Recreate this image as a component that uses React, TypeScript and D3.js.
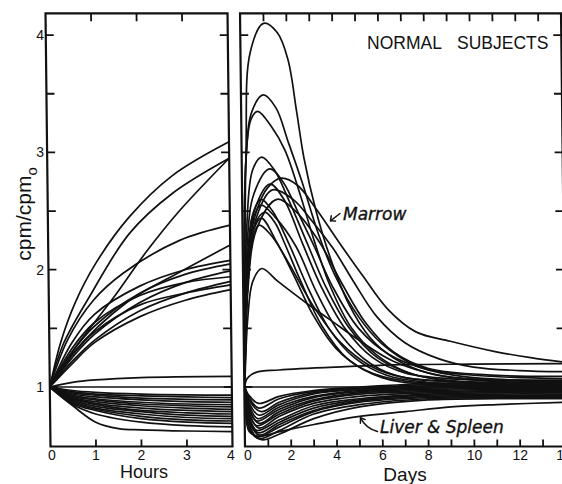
import React from "react";
import * as d3 from "d3";

type Pt = [number, number];

// Axis ticks
const hourTicks = [0, 1, 2, 3, 4];
const dayLabelTicks = [0, 2, 4, 6, 8, 10, 12, 14];
const dayMinorTicks = [1, 2, 3, 4, 5, 6, 7, 8, 9, 10, 11, 12, 13];
const yMinorTicks = [1, 1.5, 2, 2.5, 3, 3.5, 4];
const yLabelTicks = [1, 2, 3, 4];

// First four hours, marrow (rising) curves: [hour, cpm/cpm0]
const marrowHours: Pt[][] = [
  [[0, 1], [0.25, 1.38], [0.58, 1.72], [1.05, 2.06], [1.79, 2.45], [2.74, 2.8], [4, 3.09]],
  [[0, 1], [0.3, 1.36], [0.91, 1.78], [1.79, 2.31], [2.74, 2.65], [4, 2.95]],
  [[0, 1], [0.5, 1.3], [1.42, 1.76], [2.15, 2.15], [2.89, 2.5], [4, 2.95]],
  [[0, 1], [0.4, 1.4], [0.98, 1.74], [1.64, 1.97], [2.89, 2.25], [4, 2.38]],
  [[0, 1], [0.5, 1.28], [1.71, 1.72], [2.89, 1.98], [4, 2.21]],
  [[0, 1], [0.5, 1.38], [1, 1.62], [2, 1.86], [3, 2.0], [4, 2.08]],
  [[0, 1], [0.5, 1.3], [1, 1.52], [2, 1.8], [3, 1.96], [4, 2.05]],
  [[0, 1], [0.5, 1.25], [1, 1.45], [2, 1.72], [3, 1.89], [4, 1.99]],
  [[0, 1], [0.5, 1.33], [1, 1.55], [2, 1.78], [3, 1.89], [4, 1.94]],
  [[0, 1], [0.5, 1.22], [1, 1.4], [2, 1.65], [3, 1.8], [4, 1.9]],
  [[0, 1], [0.5, 1.27], [1, 1.47], [2, 1.7], [3, 1.8], [4, 1.87]],
  [[0, 1], [0.5, 1.2], [1, 1.38], [2, 1.6], [3, 1.74], [4, 1.83]],
];

// First four hours, liver & spleen curves
const liverHours: Pt[][] = [
  [[0, 1], [0.5, 1.04], [1, 1.06], [2, 1.08], [4, 1.09]],
  [[0, 1], [4, 1.0]],
  [[0, 1], [0.5, 0.97], [1, 0.955], [2, 0.94], [3, 0.933], [4, 0.93]],
  [[0, 1], [0.5, 0.96], [1, 0.94], [2, 0.925], [3, 0.915], [4, 0.91]],
  [[0, 1], [0.5, 0.95], [1, 0.93], [2, 0.905], [3, 0.895], [4, 0.89]],
  [[0, 1], [0.5, 0.94], [1, 0.915], [2, 0.89], [3, 0.875], [4, 0.87]],
  [[0, 1], [0.5, 0.93], [1, 0.9], [2, 0.87], [3, 0.855], [4, 0.85]],
  [[0, 1], [0.5, 0.92], [1, 0.89], [2, 0.855], [3, 0.84], [4, 0.83]],
  [[0, 1], [0.5, 0.91], [1, 0.875], [2, 0.84], [3, 0.82], [4, 0.81]],
  [[0, 1], [0.5, 0.905], [1, 0.86], [2, 0.82], [3, 0.8], [4, 0.79]],
  [[0, 1], [0.5, 0.9], [1, 0.85], [2, 0.8], [3, 0.78], [4, 0.77]],
  [[0, 1], [0.5, 0.89], [1, 0.835], [2, 0.79], [3, 0.76], [4, 0.75]],
  [[0, 1], [0.5, 0.88], [1, 0.82], [2, 0.77], [3, 0.74], [4, 0.73]],
  [[0, 1], [0.5, 0.87], [1, 0.81], [2, 0.75], [3, 0.72], [4, 0.71]],
  [[0, 1], [0.5, 0.86], [1, 0.8], [2, 0.73], [3, 0.7], [4, 0.69]],
  [[0, 1], [0.5, 0.85], [1, 0.77], [2, 0.7], [3, 0.67], [4, 0.66]],
  [[0, 1], [0.5, 0.84], [1, 0.7], [1.5, 0.645], [2, 0.635], [3, 0.625], [4, 0.62]],
];

// Fourteen days, marrow curves: [day, cpm/cpm0]
const marrowDays: Pt[][] = [
  [[0, 1], [0.17, 3.0], [0.4, 3.85], [1.0, 4.1], [1.6, 4.02], [2.05, 3.79], [2.4, 3.35], [2.7, 2.95], [3.2, 2.5], [3.8, 2.1], [4.6, 1.7], [5.5, 1.42], [6.5, 1.25], [8, 1.12], [10, 1.06], [14, 1.03]],
  [[0, 1], [0.17, 2.95], [0.45, 3.35], [0.95, 3.49], [1.5, 3.38], [2.0, 3.1], [2.6, 2.75], [3.3, 2.3], [4.0, 1.95], [5, 1.6], [6, 1.37], [7.5, 1.18], [9.5, 1.09], [14, 1.05]],
  [[0, 1], [0.17, 2.95], [0.4, 3.28], [0.7, 3.35], [1.29, 3.22], [1.87, 3.02], [2.5, 2.65], [3.1, 2.25], [3.8, 1.85], [4.7, 1.5], [5.8, 1.27], [7.2, 1.12], [9, 1.05], [14, 1.01]],
  [[0, 1], [0.17, 2.38], [0.45, 2.85], [0.85, 2.96], [1.4, 2.85], [2.0, 2.6], [2.85, 2.2], [3.6, 1.85], [4.6, 1.5], [5.8, 1.25], [7.5, 1.1], [10, 1.04], [14, 1.02]],
  [[0, 1], [0.17, 2.21], [0.5, 2.65], [1.2, 2.86], [1.8, 2.74], [2.5, 2.45], [3.1, 2.2], [3.9, 1.85], [5, 1.5], [6.3, 1.28], [8, 1.15], [10, 1.1], [14, 1.07]],
  [[0, 1], [0.17, 2.08], [0.6, 2.5], [1.1, 2.7], [1.7, 2.78], [2.4, 2.72], [3.2, 2.52], [4.2, 2.23], [5.2, 1.95], [6.3, 1.66], [7.5, 1.47], [9, 1.39], [11, 1.3], [12.5, 1.25], [14, 1.21]],
  [[0, 1], [0.17, 2.05], [0.5, 2.5], [1.2, 2.73], [1.8, 2.6], [2.6, 2.22], [3.4, 1.85], [4.4, 1.5], [5.6, 1.25], [7, 1.12], [9, 1.07], [14, 1.06]],
  [[0, 1], [0.17, 1.99], [0.4, 2.45], [0.8, 2.6], [1.3, 2.5], [2.0, 2.22], [2.8, 1.85], [3.7, 1.5], [4.8, 1.25], [6.2, 1.1], [8, 1.04], [14, 1.0]],
  [[0, 1], [0.17, 1.94], [0.4, 2.4], [0.8, 2.55], [1.4, 2.45], [2.3, 2.2], [3.2, 1.8], [4.2, 1.45], [5.5, 1.2], [7, 1.08], [14, 1.04]],
  [[0, 1], [0.17, 1.9], [0.45, 2.35], [0.95, 2.49], [1.4, 2.4], [1.8, 2.23], [2.5, 1.9], [3.4, 1.52], [4.5, 1.24], [6, 1.08], [8, 1.02], [14, 1.0]],
  [[0, 1], [0.17, 1.87], [0.4, 2.3], [0.8, 2.44], [1.48, 2.23], [2.2, 1.95], [3.0, 1.62], [4.0, 1.33], [5.3, 1.14], [7, 1.05], [14, 1.02]],
  [[0, 1], [0.17, 1.83], [0.4, 2.25], [0.7, 2.38], [1.2, 2.3], [2.0, 2.05], [3.0, 1.7], [4.2, 1.38], [5.5, 1.18], [7, 1.08], [14, 1.03]],
  [[0, 1], [0.17, 1.6], [0.4, 1.9], [0.8, 2.01], [1.5, 1.9], [2.77, 1.71], [3.78, 1.57], [5, 1.4], [6.5, 1.22], [8.5, 1.1], [11, 1.06], [14, 1.05]],
  [[0, 1], [0.17, 1.8], [0.6, 2.35], [1.5, 2.6], [2.3, 2.5], [3.35, 2.23], [4.3, 1.88], [5.3, 1.55], [6.5, 1.3], [8, 1.16], [11, 1.1], [14, 1.09]],
  [[0, 1], [0.17, 1.85], [0.6, 2.45], [1.3, 2.68], [2.2, 2.6], [3.0, 2.42], [3.93, 2.18], [4.8, 1.9], [5.8, 1.6], [7, 1.38], [8.5, 1.24], [10, 1.17], [12, 1.14], [14, 1.13]],
];

// Fourteen days, liver & spleen curves
const liverDays: Pt[][] = [
  [[0, 1], [0.1, 1.07], [0.5, 1.125], [1.5, 1.145], [4, 1.17], [7, 1.19], [10, 1.195], [14, 1.2]],
  [[0, 1], [14, 1.0]],
  [[0, 1], [0.17, 0.93], [0.6, 0.86], [1.5, 0.92], [3, 0.97], [5, 1.0], [8, 1.03], [11, 1.04], [14, 1.05]],
  [[0, 1], [0.17, 0.91], [0.6, 0.82], [1.5, 0.9], [3, 0.96], [5, 0.99], [8, 1.02], [11, 1.03], [14, 1.03]],
  [[0, 1], [0.17, 0.89], [0.7, 0.79], [1.5, 0.87], [3, 0.95], [5, 0.98], [8, 1.01], [11, 1.02], [14, 1.02]],
  [[0, 1], [0.17, 0.87], [0.6, 0.76], [1.5, 0.85], [3, 0.94], [5, 0.98], [8, 1.0], [11, 1.01], [14, 1.01]],
  [[0, 1], [0.17, 0.85], [0.55, 0.73], [1.5, 0.83], [3, 0.92], [5, 0.97], [8, 0.99], [11, 1.0], [14, 1.0]],
  [[0, 1], [0.17, 0.83], [0.5, 0.71], [1.5, 0.81], [3, 0.91], [5, 0.96], [8, 0.98], [11, 0.99], [14, 0.99]],
  [[0, 1], [0.17, 0.81], [0.6, 0.69], [1.5, 0.79], [3, 0.89], [5, 0.95], [8, 0.97], [11, 0.98], [14, 0.98]],
  [[0, 1], [0.17, 0.79], [0.5, 0.67], [1.5, 0.77], [3, 0.88], [5, 0.94], [8, 0.96], [11, 0.97], [14, 0.97]],
  [[0, 1], [0.17, 0.77], [0.6, 0.65], [1.5, 0.75], [3, 0.86], [5, 0.92], [8, 0.95], [11, 0.96], [14, 0.96]],
  [[0, 1], [0.17, 0.75], [0.5, 0.63], [1.5, 0.72], [3, 0.84], [5, 0.9], [8, 0.94], [11, 0.95], [14, 0.95]],
  [[0, 1], [0.17, 0.73], [0.55, 0.61], [1.5, 0.7], [3, 0.82], [5, 0.89], [8, 0.93], [11, 0.94], [14, 0.94]],
  [[0, 1], [0.17, 0.71], [0.6, 0.59], [1.5, 0.68], [3, 0.8], [5, 0.88], [8, 0.92], [11, 0.93], [14, 0.93]],
  [[0, 1], [0.17, 0.69], [0.5, 0.575], [1.5, 0.66], [3, 0.79], [5, 0.87], [8, 0.91], [11, 0.92], [14, 0.92]],
  [[0, 1], [0.17, 0.66], [0.6, 0.56], [1.5, 0.63], [3, 0.77], [5, 0.85], [8, 0.9], [11, 0.91], [14, 0.91]],
  [[0, 1], [0.17, 0.64], [0.7, 0.55], [1.5, 0.6], [3, 0.73], [5, 0.83], [8, 0.89], [11, 0.9], [14, 0.9]],
  [[0, 1], [0.17, 0.62], [0.6, 0.58], [1.5, 0.62], [3, 0.68], [5, 0.75], [7, 0.79], [9, 0.83], [11, 0.85], [14, 0.87]],
];

const INK = "#111";
const W = 562;
const H = 484;
const TOP = 13.3;
const BOTTOM = 446.5;
// slight lean of the drawn frames (top edge sits a little left of the bottom edge)
const LEAN = 0.0115;
const leanDeg = (Math.atan(LEAN) * 180) / Math.PI;

export default function App() {
  const y = d3.scaleLinear().domain([1, 4]).range([387, 35.1]);
  const xh = d3.scaleLinear().domain([0, 4]).range([50.5, 232.5]);
  const xd = d3.scaleLinear().domain([0, 14]).range([245.5, 566]);

  const lineH = d3
    .line<Pt>()
    .x((d) => xh(d[0]))
    .y((d) => y(d[1]))
    .curve(d3.curveCatmullRom.alpha(0.5));
  const lineD = d3
    .line<Pt>()
    .x((d) => xd(d[0]))
    .y((d) => y(d[1]))
    .curve(d3.curveCatmullRom.alpha(0.5));

  const hx0 = xh(0);
  const hx1 = xh(4);
  const dx0 = 245;
  const dx1 = xd(14);
  const tick = 8;

  const curveStyle = { fill: "none", stroke: INK, strokeWidth: 1.7, strokeLinejoin: "round" as const };

  return (
    <svg
      width={W}
      height={H}
      viewBox={`0 0 ${W} ${H}`}
      style={{ position: "absolute", left: 0, top: 0, background: "#fff" }}
    >
      <defs>
        <clipPath id="clip-hours">
          <rect x={hx0} y={TOP} width={hx1 - hx0} height={BOTTOM - TOP} />
        </clipPath>
        <clipPath id="clip-days">
          <rect x={dx0} y={TOP} width={dx1 - dx0} height={BOTTOM - TOP} />
        </clipPath>
      </defs>
      <rect x={0} y={0} width={W} height={H} fill="#fff" />

      <g transform={`translate(${-LEAN * BOTTOM},0) skewX(${leanDeg})`}>
        {/* Hours panel */}
        <g clipPath="url(#clip-hours)">
          {marrowHours.map((s, i) => (
            <path key={`mh${i}`} d={lineH(s) || ""} {...curveStyle} />
          ))}
          {liverHours.map((s, i) => (
            <path key={`lh${i}`} d={lineH(s) || ""} {...curveStyle} />
          ))}
        </g>
        <rect x={hx0} y={TOP} width={hx1 - hx0} height={BOTTOM - TOP} fill="none" stroke={INK} strokeWidth={2.2} />
        {yMinorTicks.map((v) => (
          <g key={`hy${v}`}>
            <line x1={hx0} x2={hx0 + tick} y1={y(v)} y2={y(v)} stroke={INK} strokeWidth={1.8} />
            <line x1={hx1} x2={hx1 - tick} y1={y(v)} y2={y(v)} stroke={INK} strokeWidth={1.8} />
          </g>
        ))}
        {hourTicks.slice(1, 4).map((h) => (
          <g key={`hx${h}`}>
            <line x1={xh(h)} x2={xh(h)} y1={BOTTOM} y2={BOTTOM - 7} stroke={INK} strokeWidth={1.8} />
            <line x1={xh(h)} x2={xh(h)} y1={TOP} y2={TOP + 8} stroke={INK} strokeWidth={1.8} />
          </g>
        ))}

        {/* Days panel */}
        <g clipPath="url(#clip-days)">
          {liverDays.map((s, i) => (
            <path key={`ld${i}`} d={lineD(s) || ""} {...curveStyle} />
          ))}
          {marrowDays.map((s, i) => (
            <path key={`md${i}`} d={lineD(s) || ""} {...curveStyle} />
          ))}
        </g>
        <rect x={dx0} y={TOP} width={dx1 - dx0} height={BOTTOM - TOP} fill="none" stroke={INK} strokeWidth={2.2} />
        {yMinorTicks.map((v) => (
          <g key={`dy${v}`}>
            <line x1={dx0} x2={dx0 + tick} y1={y(v)} y2={y(v)} stroke={INK} strokeWidth={1.8} />
            <line x1={dx1} x2={dx1 - tick} y1={y(v)} y2={y(v)} stroke={INK} strokeWidth={1.8} />
          </g>
        ))}
        {dayMinorTicks.map((d) => (
          <g key={`dx${d}`}>
            <line x1={xd(d)} x2={xd(d)} y1={BOTTOM} y2={BOTTOM - 7} stroke={INK} strokeWidth={1.8} />
            <line x1={xd(d)} x2={xd(d)} y1={TOP} y2={TOP + 8} stroke={INK} strokeWidth={1.8} />
          </g>
        ))}
      </g>

      {/* Tick labels */}
      <g fontFamily="'Liberation Sans', Arial, sans-serif" fontSize={14} fill={INK}>
        {yLabelTicks.map((v) => (
          <text key={`yl${v}`} x={44} y={y(v) + 5} textAnchor="end">
            {v}
          </text>
        ))}
        {hourTicks.map((h) => (
          <text key={`hl${h}`} x={xh(h) + (h === 0 ? 1.5 : h === 4 ? -1.5 : 0)} y={460} textAnchor="middle">
            {h}
          </text>
        ))}
        {dayLabelTicks.map((d) => (
          <text key={`dl${d}`} x={xd(d) + (d === 0 ? 2.5 : d === 14 ? -2 : 0)} y={460} textAnchor="middle">
            {d}
          </text>
        ))}
      </g>

      {/* Axis titles */}
      <g fontFamily="'Liberation Sans', Arial, sans-serif" fill={INK}>
        <text x={144} y={478} fontSize={18} textAnchor="middle">
          Hours
        </text>
        <text x={405} y={481} fontSize={19} textAnchor="middle">
          Days
        </text>
        <text transform="translate(31,214) rotate(-90)" fontSize={21} textAnchor="middle">
          cpm/cpm
          <tspan dy={6} fontSize={15}>
            o
          </tspan>
        </text>
        <text y={49.3} fontSize={17.5}>
          <tspan x={367}>NORMAL</tspan>
          <tspan x={457}>SUBJECTS</tspan>
        </text>
      </g>

      {/* Annotations */}
      <g fontFamily="'DejaVu Sans', sans-serif" fontStyle="italic" fontSize={17} fill={INK} stroke={INK} strokeWidth={0.35}>
        <text x={343} y={220}>
          Marrow
        </text>
        <text x={380} y={432.7}>
          Liver &amp; Spleen
        </text>
      </g>
      <g fill="none" stroke={INK} strokeWidth={1.5} strokeLinecap="round">
        <path d="M340,213.5 L330.5,220.8" />
        <path d="M330.5,220.8 L331.2,215.8 M330.5,220.8 L335.5,221" />
        <path d="M377.5,431.5 Q366,428.5 360.5,417.8" />
        <path d="M360.5,417.8 L360.4,423.3 M360.5,417.8 L365.2,419.6" />
      </g>
    </svg>
  );
}
